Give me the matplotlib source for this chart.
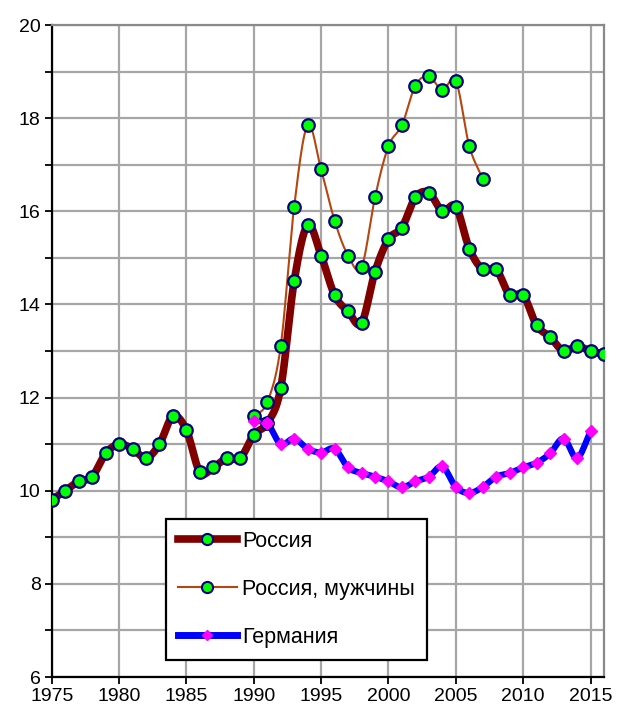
import numpy as np
import matplotlib
matplotlib.use("Agg")
import matplotlib.pyplot as plt
from matplotlib.lines import Line2D

plt.rcParams['font.family'] = ['Liberation Sans', 'DejaVu Sans']

# Russia, total
years_ru = list(range(1975, 2017))
ru_total = [9.8, 10.0, 10.2, 10.3, 10.8, 11.0, 10.9, 10.7, 11.0, 11.6,
            11.3, 10.4, 10.5, 10.7, 10.7, 11.2, 11.45, 12.2, 14.5, 15.7,
            15.05, 14.2, 13.85, 13.6, 14.7, 15.4, 15.65, 16.3, 16.4, 16.0,
            16.1, 15.2, 14.75, 14.75, 14.2, 14.2, 13.55, 13.3, 13.0, 13.1,
            13.0, 12.93]

# Russia, men
years_men = list(range(1990, 2008))
ru_men = [11.6, 11.9, 13.1, 16.1, 17.85, 16.9, 15.8, 15.05, 14.8, 16.3,
          17.4, 17.85, 18.7, 18.9, 18.6, 18.8, 17.4, 16.7]

# Germany
years_de = list(range(1990, 2016))
de = [11.5, 11.45, 11.0, 11.12, 10.9, 10.82, 10.9, 10.5, 10.38, 10.3,
      10.2, 10.07, 10.2, 10.3, 10.52, 10.08, 9.95, 10.08, 10.3, 10.38,
      10.5, 10.6, 10.8, 11.12, 10.7, 11.28]

series_names = ["Россия", "Россия, мужчины", "Германия"]


def smooth(x, y, n=20):
    """Catmull-Rom curve through the points (like a spreadsheet smoothed line)."""
    x = np.asarray(x, float)
    y = np.asarray(y, float)
    px = np.concatenate([[2 * x[0] - x[1]], x, [2 * x[-1] - x[-2]]])
    py = np.concatenate([[2 * y[0] - y[1]], y, [2 * y[-1] - y[-2]]])
    xs, ys = [], []
    t = np.linspace(0, 1, n, endpoint=False)
    for i in range(1, len(px) - 2):
        for p, out in ((px, xs), (py, ys)):
            p0, p1, p2, p3 = p[i - 1], p[i], p[i + 1], p[i + 2]
            out.extend(0.5 * ((2 * p1) + (-p0 + p2) * t +
                              (2 * p0 - 5 * p1 + 4 * p2 - p3) * t ** 2 +
                              (-p0 + 3 * p1 - 3 * p2 + p3) * t ** 3))
    xs.append(x[-1])
    ys.append(y[-1])
    return np.array(xs), np.array(ys)


fig = plt.figure(figsize=(6.17, 7.13), dpi=100)
ax = fig.add_axes([51.7 / 617, 1 - 677 / 713, (604 - 51.7) / 617, (677 - 25) / 713])

ax.set_xlim(1975, 2016)
ax.set_ylim(6, 20)
ax.set_xticks(range(1975, 2016, 5))
ax.set_yticks(range(6, 21, 2))
ax.set_yticks(range(7, 20, 2), minor=True)
ax.grid(True, which='both', color='#a6a6a6', linewidth=1.6)
ax.set_axisbelow(True)

for side in ('top', 'right'):
    ax.spines[side].set_color('#8a8a8a')
    ax.spines[side].set_linewidth(1.6)
for side in ('left', 'bottom'):
    ax.spines[side].set_color('black')
    ax.spines[side].set_linewidth(1.6)

ax.tick_params(axis='both', which='both', direction='out', length=5,
               width=1.3, color='black', labelsize=14, pad=3)
ax.tick_params(axis='y', which='minor', length=5)

green = '#00ff00'
navy = '#000080'

# Russia, total
sx, sy = smooth(years_ru, ru_total)
ax.plot(sx, sy, color='#800000', linewidth=5.5, solid_capstyle='round', zorder=3)
ax.plot(years_ru, ru_total, linestyle='none', marker='o', markersize=9,
        markerfacecolor=green, markeredgecolor=navy, markeredgewidth=1.6, zorder=6)

# Russia, men
sx, sy = smooth(years_men, ru_men)
ax.plot(sx, sy, color='#b5460f', linewidth=1.5, zorder=4)
ax.plot(years_men, ru_men, linestyle='none', marker='o', markersize=9,
        markerfacecolor=green, markeredgecolor=navy, markeredgewidth=1.6, zorder=6)

# Germany
sx, sy = smooth(years_de, de)
ax.plot(sx, sy, color='#0000ff', linewidth=4.5, solid_capstyle='round', zorder=5)
ax.plot(years_de, de, linestyle='none', marker='D', markersize=6,
        markerfacecolor='#ff00ff', markeredgecolor='#ff00ff', zorder=7)

handles = [
    Line2D([], [], color='#800000', linewidth=5.5, marker='o', markersize=8,
           markerfacecolor=green, markeredgecolor=navy, markeredgewidth=1.5),
    Line2D([], [], color='#b5460f', linewidth=1.5, marker='o', markersize=8,
           markerfacecolor=green, markeredgecolor=navy, markeredgewidth=1.5),
    Line2D([], [], color='#0000ff', linewidth=5, marker='D', markersize=5,
           markerfacecolor='#ff00ff', markeredgecolor='#ff00ff'),
]
leg = ax.legend(handles, series_names, loc='upper left',
                bbox_to_anchor=((166 - 51.7) / (604 - 51.7), 1 - (519 - 25) / 652),
                fontsize=15.5, frameon=True, fancybox=False, edgecolor='black',
                framealpha=1, borderpad=0.55, labelspacing=1.25, handlelength=2.75,
                handletextpad=0.25, borderaxespad=0)
leg.get_frame().set_linewidth(1.6)
leg.set_zorder(10)

fig.savefig('out.png', dpi=100)
